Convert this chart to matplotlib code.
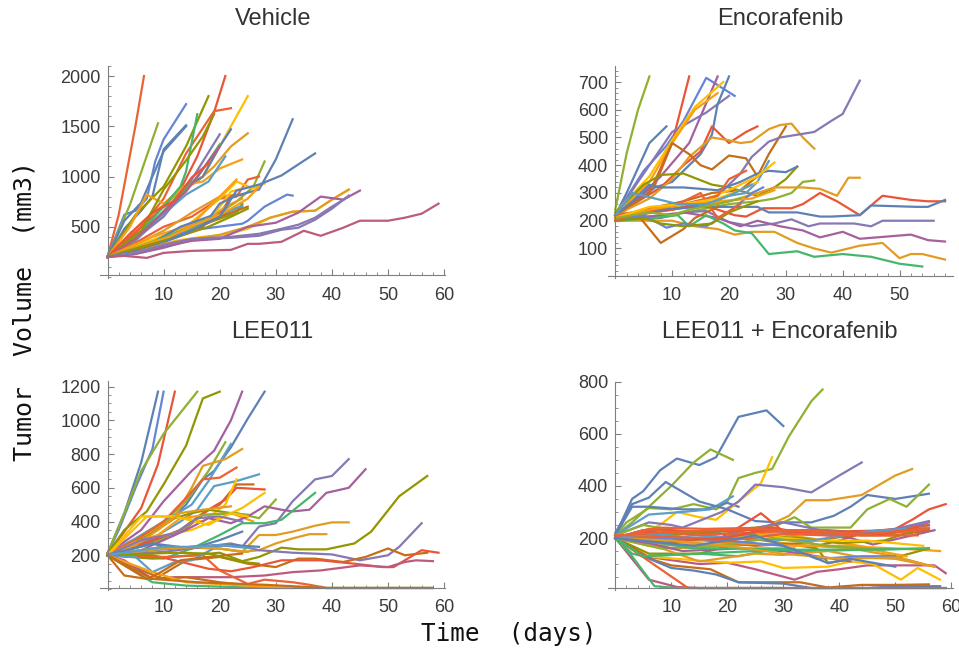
import matplotlib
matplotlib.use("Agg")
import matplotlib.pyplot as plt
from matplotlib.ticker import MultipleLocator, FixedLocator

W, H = 959, 652

# Mathematica default colours
palette = ["#5E81B5", "#E19C24", "#8FB032", "#EB6235", "#8778B3", "#C56E1A", "#5D9EC7", "#FFBF00",
           "#A5609D", "#929600", "#E95536", "#6685D9", "#F89F13", "#BC5B80", "#47B66D"]

# Vehicle
vehicle_colors = [0, 3, 11, 2, 0, 9, 10, 3, 7, 1, 12, 0, 6, 14, 4, 14, 9, 2, 13, 3, 10, 1, 7, 12,
                  0, 14, 9, 7, 10, 1, 6, 2, 0, 11, 5, 12, 9, 7, 0, 4, 1, 8, 4, 13]
vehicle_days = [
    [0, 3, 6, 8, 10, 14], [0, 2, 5, 6.5], [0, 3, 5, 7, 8.5, 10, 14], [0, 4, 9], [0, 3, 6, 8, 10, 14],
    [0, 5, 10, 14, 18], [0, 5, 10, 13, 16, 19, 21], [0, 5, 10, 14, 19, 22], [0, 5, 10, 14, 17, 20, 25],
    [0, 4, 8, 13, 16, 19, 22, 25], [0, 4, 7, 10, 14, 17, 20, 24], [0, 5, 10, 14, 17, 20, 22],
    [0, 5, 9, 14, 18, 21], [0, 5, 9, 13, 14, 16], [0, 5, 10, 14, 17, 20], [0, 5, 9, 13, 16, 20],
    [0, 6, 10, 14, 17, 19], [0, 8, 15, 20, 23, 26, 28], [0, 5, 10, 14, 18, 20], [0, 5, 10, 15, 20, 23, 25, 27],
    [0, 4, 8, 12, 15, 18], [0, 5, 10, 15, 20, 23], [0, 6, 11, 14, 20, 23, 26, 28],
    [0, 8, 15, 20, 23], [0, 7, 13, 20, 24], [0, 8, 15, 20, 23, 24], [0, 8, 15, 21, 23, 24],
    [0, 9, 15, 19, 22, 24], [0, 9, 15, 20, 22, 24], [0, 9, 14, 18, 21, 24], [0, 7, 13, 17, 21, 24],
    [0, 8, 15, 20, 23], [0, 6, 12, 17, 20, 23, 27, 30, 33], [0, 5, 12, 17, 24, 25, 28, 32, 33],
    [0, 8, 15, 20, 25], [0, 6, 11, 16, 20, 22, 25, 27], [0, 6, 12, 18, 22, 25],
    [0, 7, 12, 17, 21, 25, 29, 33, 37, 40, 43], [0, 7, 13, 20, 23, 27, 31, 37],
    [0, 5, 10, 15, 22, 27, 31, 34, 37, 40, 43], [0, 5, 10, 20, 25, 29, 33, 37, 40, 43],
    [0, 5, 10, 15, 20, 25, 30, 34, 38, 42, 45], [0, 5, 10, 15, 22, 27, 31, 34, 37, 40, 43],
    [0, 3, 7, 10, 15, 22, 25, 27, 31, 35, 38, 42, 45, 50, 53, 56, 59],
]
vehicle_vols = [
    [200, 480, 660, 800, 1270, 1510], [200, 620, 1510, 2000], [200, 620, 660, 780, 1150, 1370, 1720], [200, 720, 1530], [200, 560, 740, 1000, 1250, 1500],
    [200, 620, 900, 1300, 1800], [200, 450, 700, 870, 1200, 1640, 2000], [200, 430, 780, 1230, 1650, 1680], [200, 400, 640, 880, 1000, 1300, 1800],
    [200, 430, 630, 850, 950, 1100, 1300, 1430], [200, 500, 820, 730, 920, 950, 1080, 1170], [200, 400, 650, 900, 1000, 1300, 1470],
    [200, 360, 580, 820, 950, 1200], [200, 400, 640, 900, 1050, 1620], [200, 380, 600, 880, 1150, 1420], [200, 380, 600, 830, 990, 1320],
    [200, 460, 870, 1160, 1400, 1620], [200, 350, 520, 640, 750, 900, 1150], [200, 380, 650, 850, 1150, 1300], [200, 340, 500, 600, 780, 800, 970, 1000],
    [200, 430, 640, 760, 990, 1130], [200, 320, 460, 640, 800, 820], [200, 330, 430, 500, 780, 950, 880, 930],
    [200, 400, 520, 800, 970], [200, 310, 500, 640, 700], [200, 350, 500, 600, 650, 720], [200, 340, 480, 600, 640, 730],
    [200, 330, 470, 620, 850, 880], [200, 340, 480, 620, 800, 820], [200, 340, 470, 570, 700, 780], [200, 290, 420, 540, 640, 710],
    [200, 330, 470, 600, 650], [200, 260, 400, 500, 730, 810, 870, 1170, 1570], [200, 280, 420, 480, 530, 560, 700, 820, 810],
    [200, 320, 450, 600, 700], [200, 310, 400, 530, 620, 680, 780, 900], [200, 300, 390, 500, 600, 680],
    [200, 260, 360, 400, 420, 480, 590, 650, 660, 770, 870], [200, 280, 410, 600, 860, 920, 1010, 1230],
    [200, 230, 290, 370, 390, 410, 470, 490, 570, 680, 810], [200, 240, 330, 420, 500, 590, 650, 660, 770, 870],
    [200, 230, 300, 360, 380, 500, 540, 640, 800, 770, 860], [200, 240, 320, 380, 400, 430, 480, 520, 590, 700, 800],
    [200, 210, 190, 240, 260, 270, 330, 330, 350, 460, 410, 490, 560, 560, 590, 630, 730],
]

# Encorafenib
encorafenib_colors = [2, 0, 11, 10, 8, 4, 0, 7, 12, 10, 1, 5, 5, 4, 9, 0, 6, 7, 3, 2, 1, 10, 0, 4, 8, 1, 14, 5, 11,
                      9, 3, 12, 7, 2, 6]
encorafenib_days = [
    [0, 2, 4, 6], [0, 2, 4, 6, 9], [0, 5, 9, 12, 16, 21], [0, 7, 10, 13], [0, 3, 8, 13, 18],
    [0, 6, 10, 16, 20], [0, 7, 10, 12, 15, 17, 18, 20], [0, 6, 10, 14, 19], [0, 6, 10, 14, 18],
    [0, 8, 12, 15, 17, 20, 23, 25], [0, 6, 10, 13, 17, 20, 22, 24, 27, 29, 31, 33, 35],
    [0, 6, 10, 13, 15, 17, 20, 23, 25], [0, 5, 12, 17, 22, 25, 27, 30],
    [0, 10, 18, 22, 24, 27, 29, 32, 35, 38, 40, 43], [0, 5, 8, 12, 17, 20, 25, 28, 30, 32],
    [0, 3, 6, 8, 12, 18, 22, 25, 27, 30, 32], [0, 10, 15, 20, 23, 25, 27], [0, 10, 15, 20, 25, 28],
    [0, 12, 18, 20, 23], [0, 10, 15, 20, 25, 28, 31, 33, 35],
    [0, 10, 20, 25, 28, 33, 36, 39, 41, 43],
    [0, 10, 15, 21, 23, 26, 31, 33, 36, 39, 43, 47, 52, 55, 58],
    [0, 8, 15, 25, 27, 32, 36, 38, 43, 45, 53, 55, 58],
    [0, 8, 12, 16, 20, 24, 28, 31, 34, 36, 42, 45, 47, 56],
    [0, 12, 18, 22, 25, 29, 33, 36, 40, 43, 49, 52, 55, 58],
    [0, 10, 14, 18, 21, 24, 28, 32, 35, 38, 43, 47, 50, 52, 54, 58],
    [0, 7, 11, 13, 16, 19, 21, 24, 27, 32, 35, 40, 45, 50, 54],
    [0, 4, 8, 12, 14, 18], [0, 5, 9, 12, 16, 20, 24, 26],
    [0, 5, 8, 12, 17, 20, 25], [0, 4, 7, 11, 15, 18, 22], [0, 6, 12, 18, 24, 28],
    [0, 6, 12, 18, 22, 25], [0, 6, 10, 13, 18, 22], [0, 3, 7, 11, 16, 20, 24],
]
encorafenib_vols = [
    [240, 443, 600, 720], [220, 300, 390, 480, 540], [220, 380, 470, 560, 715, 650], [220, 330, 480, 720], [210, 260, 360, 480, 720],
    [220, 400, 520, 590, 650], [210, 320, 340, 380, 440, 510, 620, 720], [230, 360, 490, 610, 700], [220, 340, 480, 600, 660],
    [220, 320, 400, 450, 540, 480, 520, 540], [220, 280, 350, 430, 500, 490, 480, 485, 530, 545, 550, 500, 460],
    [220, 300, 480, 440, 400, 385, 435, 425, 360], [210, 240, 270, 300, 310, 360, 440, 540],
    [220, 240, 290, 370, 430, 485, 500, 510, 520, 560, 585, 705], [230, 330, 365, 370, 330, 320, 290, 320, 350, 395],
    [220, 270, 330, 320, 320, 310, 340, 370, 380, 375, 395], [220, 250, 250, 290, 300, 340, 415], [220, 250, 270, 310, 360, 410],
    [220, 260, 290, 350, 380], [210, 220, 240, 260, 270, 280, 300, 340, 345],
    [210, 240, 270, 300, 320, 320, 315, 290, 355, 355],
    [210, 240, 260, 220, 215, 245, 245, 260, 300, 270, 220, 290, 275, 270, 270],
    [200, 240, 250, 250, 230, 230, 215, 215, 220, 255, 250, 250, 275],
    [200, 210, 230, 235, 195, 180, 190, 205, 180, 190, 190, 180, 200, 200],
    [200, 230, 210, 180, 200, 180, 165, 140, 160, 135, 145, 150, 130, 125],
    [200, 200, 180, 170, 150, 160, 160, 120, 100, 85, 110, 120, 65, 80, 80, 60],
    [200, 210, 220, 180, 220, 190, 165, 155, 80, 90, 70, 80, 70, 45, 35],
    [210, 220, 120, 170, 210, 250], [200, 220, 175, 190, 180, 230, 300, 320],
    [200, 210, 190, 180, 190, 230, 270], [200, 230, 240, 260, 300, 210, 260], [210, 240, 260, 270, 280, 310],
    [210, 250, 260, 280, 310, 340], [210, 230, 220, 240, 260, 280], [220, 300, 280, 260, 260, 290, 330],
]

# LEE011
lee011_colors = [0, 11, 10, 2, 9, 8, 0, 6, 2, 1, 3, 6, 5, 10, 7, 7, 9, 12, 2, 4, 8, 14, 1, 1, 0, 9, 4, 5, 10, 13,
                 5, 3, 14, 6, 12, 7, 5, 1, 4, 0, 1, 9, 6, 5]
lee011_days = [
    [0, 3, 6, 9], [0, 2, 5, 8, 10], [0, 3, 6, 9, 12], [0, 3, 6, 10, 16], [0, 3, 7, 10, 14, 17, 20], [0, 6, 10, 15, 19, 22, 24],
    [0, 5, 10, 14, 17, 19, 22, 25, 28], [0, 5, 10, 15, 18, 22], [0, 5, 10, 14, 18, 21], [0, 6, 12, 15, 17, 21, 24],
    [0, 5, 10, 14, 17, 20, 23], [0, 8, 13, 16, 19, 23, 27], [0, 8, 13, 17, 20, 23, 26], [0, 8, 14, 18, 21, 23, 28],
    [0, 7, 15, 20, 24, 28], [0, 6, 12, 17, 21, 23], [0, 7, 12, 15, 18, 22, 25], [0, 5, 9, 13, 18, 22, 26],
    [0, 7, 12, 17, 23, 27, 30], [0, 5, 15, 20, 24, 27, 30, 33, 37, 40, 43], [0, 6, 14, 18, 22, 25, 28, 31, 33, 36, 39, 43, 46],
    [0, 5, 10, 15, 20, 24, 28, 31, 34, 37], [0, 10, 20, 24, 27, 30, 33, 37, 40, 43], [0, 10, 20, 24, 27, 30, 33, 36, 39],
    [0, 8, 15, 20, 24], [0, 8, 15, 20, 24, 27, 31, 34, 39, 44, 47, 52, 57],
    [0, 10, 22, 27, 33, 40, 45, 50, 52, 56], [0, 9, 14, 20, 25, 30, 34, 37, 42, 46, 50, 53, 57],
    [0, 8, 12, 18, 22, 26, 31, 38, 44, 49, 51, 54, 56, 59], [0, 3, 8, 12, 22, 28, 33, 38, 45, 50, 53, 55, 58],
    [0, 3, 7, 9, 14, 20, 30], [0, 10, 17, 20, 25, 28, 33, 36, 39, 58], [0, 4, 8, 14, 24, 30, 58],
    [0, 5, 8, 12, 15, 20], [0, 8, 14, 25, 30, 33], [0, 7, 12, 18, 22, 25], [0, 7, 9, 13, 18, 24],
    [0, 5, 9, 13, 17, 22], [0, 6, 12, 16, 20, 24], [0, 8, 11, 15, 22, 27],
    [0, 10, 17, 25], [0, 12, 18, 24, 27], [0, 10, 15, 20, 26], [0, 8, 16, 28, 39, 58],
]
lee011_vols = [
    [210, 450, 750, 1170], [210, 350, 600, 830, 1170], [200, 340, 480, 740, 1170], [210, 450, 700, 920, 1170], [210, 350, 460, 620, 850, 1130, 1170], [210, 350, 520, 700, 820, 1000, 1170],
    [210, 290, 380, 500, 650, 700, 840, 1010, 1170], [210, 300, 400, 500, 640, 860], [210, 290, 400, 520, 700, 870], [210, 300, 430, 600, 730, 770, 830],
    [210, 290, 400, 540, 650, 660, 720], [200, 300, 400, 470, 610, 640, 680], [200, 280, 350, 450, 500, 620, 620], [200, 290, 360, 470, 530, 600, 590],
    [200, 300, 350, 420, 480, 570], [200, 430, 430, 400, 500, 650], [200, 310, 420, 450, 470, 450, 440], [200, 280, 320, 420, 440, 450, 400],
    [200, 260, 320, 440, 450, 420, 530], [200, 220, 250, 260, 250, 370, 390, 520, 650, 670, 770], [200, 230, 350, 420, 390, 430, 490, 470, 460, 470, 570, 600, 710],
    [200, 190, 180, 240, 320, 390, 390, 410, 490, 570], [200, 250, 240, 220, 320, 320, 340, 375, 395, 395], [200, 250, 240, 220, 230, 270, 300, 325, 325],
    [200, 270, 240, 290, 340], [200, 180, 200, 215, 165, 190, 245, 235, 235, 270, 340, 550, 670],
    [200, 220, 270, 230, 215, 205, 170, 200, 250, 390], [200, 70, 170, 190, 150, 130, 180, 180, 160, 190, 240, 200, 215],
    [200, 200, 170, 120, 105, 130, 170, 170, 150, 130, 130, 190, 230, 215], [200, 170, 60, 70, 70, 80, 100, 110, 140, 130, 160, 170, 165],
    [200, 80, 60, 60, 70, 40, 6], [200, 190, 200, 110, 30, 55, 40, 25, 6, 6], [200, 120, 40, 20, 10, 6, 6],
    [200, 190, 100, 160, 170, 260], [200, 100, 40, 20, 10, 6], [200, 430, 430, 380, 450, 430], [200, 60, 90, 170, 190, 210],
    [200, 260, 350, 450, 470, 490], [200, 290, 330, 420, 430, 400], [200, 270, 240, 250, 260, 250],
    [200, 240, 250, 220], [200, 215, 210, 160, 150], [200, 250, 250, 260, 240], [200, 60, 40, 25, 6, 6],
]

# LEE011 + Encorafenib
combo_colors = [0, 2, 2, 0, 7, 6, 4, 0, 1, 2, 10, 4, 8, 6, 3, 12, 14, 9, 13, 7, 1, 5, 0, 13, 14, 3, 1, 5, 9, 7, 4, 10, 3,
                12, 6, 2, 11, 8, 14, 3, 14, 10, 3, 1, 0]
combo_days = [
    [0, 3, 5, 8, 11, 15, 18, 22, 27, 30], [0, 3, 6, 10, 14, 17, 21], [0, 2, 6, 10, 14, 18, 20, 22, 25, 28, 31, 35, 37], [0, 3, 6, 12, 16, 20, 22],
    [0, 5, 8, 11, 15, 18, 22, 26, 28], [0, 6, 12, 17, 21], [0, 6, 10, 12, 19, 22, 25, 30, 35, 40, 44],
    [0, 3, 6, 9, 11, 15, 20, 25, 29, 35, 39, 42, 45, 50, 56], [0, 10, 20, 27, 31, 34, 38, 44, 50, 53],
    [0, 5, 15, 20, 25, 29, 32, 35, 37, 42, 45, 49, 52, 56], [0, 5, 12, 18, 22, 26, 30, 36, 40, 45, 50, 53, 56, 59],
    [0, 5, 10, 20, 30, 40, 45, 50, 56], [0, 5, 12, 20, 30, 42, 46, 53, 57], [0, 10, 20, 30, 40, 50, 56],
    [0, 8, 16, 28, 30, 40, 50, 56], [0, 5, 15, 28, 36, 45, 50, 58], [0, 3, 5, 15, 22, 28, 35, 45, 56],
    [0, 3, 6, 15, 25, 30, 36, 38, 44, 50, 56], [0, 5, 15, 20, 25, 32, 36, 40, 45, 50, 57, 59],
    [0, 5, 20, 26, 30, 38, 42, 46, 51, 54, 58], [0, 7, 15, 25, 30, 38, 44, 50, 57],
    [0, 7, 10, 17, 22, 27, 33, 38, 44, 50, 56], [0, 5, 10, 14, 18, 22, 30, 35, 45, 50, 58],
    [0, 3, 6, 11, 15, 59], [0, 3, 7, 11, 15, 30], [0, 13, 59], [0, 10, 20, 30, 35, 42, 50, 55],
    [0, 8, 16, 25, 33, 42, 50, 56], [0, 7, 15, 25, 33, 40, 48, 55], [0, 8, 18, 26, 35, 45, 55],
    [0, 10, 18, 28, 38, 48, 56], [0, 8, 16, 24, 32, 40, 50, 56], [0, 6, 14, 24, 34, 44, 54],
    [0, 6, 14, 22, 32, 42, 52], [0, 7, 15, 25, 35, 45, 55], [0, 8, 18, 28, 38, 48], [0, 10, 20, 30, 36, 44, 50],
    [0, 6, 12, 22, 30, 36, 42], [0, 5, 14, 24, 32], [0, 10, 20, 30, 38, 48, 56],
    [0, 5, 20, 30, 45, 56], [0, 10, 20, 28, 32, 40, 48, 54], [0, 12, 25, 35, 45, 55],
    [0, 10, 20, 30, 40, 50, 57], [0, 14, 25, 35, 38, 42, 50],
]
combo_vols = [
    [210, 350, 380, 460, 505, 480, 510, 665, 690, 630], [210, 260, 320, 400, 490, 540, 500], [210, 260, 315, 310, 330, 310, 340, 430, 450, 465, 590, 725, 770], [210, 320, 320, 310, 310, 335, 320],
    [200, 220, 250, 300, 280, 270, 340, 410, 510], [210, 290, 300, 310, 360], [210, 260, 250, 240, 300, 340, 405, 395, 375, 440, 490],
    [220, 330, 355, 415, 390, 340, 310, 265, 260, 260, 285, 320, 365, 350, 370], [200, 180, 220, 245, 285, 345, 345, 365, 440, 465],
    [210, 250, 210, 230, 240, 250, 280, 240, 240, 240, 310, 350, 320, 405], [200, 200, 190, 190, 240, 295, 225, 170, 190, 225, 235, 270, 310, 330],
    [200, 230, 230, 215, 260, 215, 220, 235, 265], [200, 230, 190, 190, 230, 200, 175, 210, 230], [200, 220, 200, 220, 215, 230, 240],
    [200, 240, 235, 240, 225, 220, 225, 250], [200, 220, 170, 220, 195, 165, 160, 150], [200, 140, 130, 140, 130, 155, 150, 155, 160],
    [200, 170, 140, 140, 195, 180, 160, 105, 125, 125, 160], [200, 130, 100, 105, 80, 40, 70, 80, 95, 95, 95, 65],
    [200, 130, 105, 110, 85, 90, 110, 100, 40, 85, 40], [200, 170, 110, 140, 135, 150, 125, 120, 90],
    [200, 115, 95, 80, 30, 30, 30, 10, 20, 20, 22], [200, 130, 85, 75, 60, 30, 25, 8, 8, 15, 15],
    [200, 120, 40, 12, 8, 8], [200, 130, 15, 8, 8, 8], [200, 8, 8], [200, 160, 170, 180, 170, 160, 130, 100],
    [200, 180, 190, 170, 180, 210, 210, 230], [200, 210, 220, 210, 200, 180, 190, 240], [200, 170, 195, 210, 190, 190, 170],
    [200, 190, 200, 230, 230, 215, 260], [200, 230, 225, 230, 225, 225, 230, 250], [200, 235, 210, 220, 230, 210, 210],
    [200, 170, 175, 180, 170, 170, 130], [200, 215, 200, 195, 190, 225, 240], [200, 160, 170, 200, 170, 155], [200, 200, 190, 170, 120, 130, 130],
    [200, 180, 150, 160, 150, 130, 110], [200, 190, 160, 160, 160], [200, 205, 190, 215, 210, 215, 235],
    [200, 130, 145, 155, 155, 160], [200, 190, 200, 240, 225, 220, 215, 240], [210, 225, 235, 225, 215, 235],
    [200, 190, 170, 140, 120, 125, 90], [200, 170, 210, 130, 103, 120, 90],
]

# pixel box of each panel and its axis limits
panels = [
    ("Vehicle", vehicle_days, vehicle_vols, vehicle_colors, (100, 445.5, 66, 277.5),
     (-1.34, 60.25), (-5, 2100), 15, [500, 1000, 1500, 2000], 100, 60, 273),
    ("Encorafenib", encorafenib_days, encorafenib_vols, encorafenib_colors, (608, 953, 66, 277.5),
     (-1.28, 59.4), (-4.6, 757.7), 2.6, [100, 200, 300, 400, 500, 600, 700], 20, 50, 780),
    ("LEE011", lee011_days, lee011_vols, lee011_colors, (100, 445.5, 380.7, 590),
     (-1.34, 60.25), (-6, 1235), 6, [200, 400, 600, 800, 1000, 1200], 50, 60, 272),
    ("LEE011 + Encorafenib", combo_days, combo_vols, combo_colors, (608, 953, 381.7, 590),
     (-1.3, 60.3), (0.4, 800), 8, [200, 400, 600, 800], 50, 60, 780),
]

fig = plt.figure(figsize=(W / 100, H / 100), dpi=100)

for title, days, vols, colors, box, xlim, ylim, base, yticks, yminor, xmax, title_x in panels:
    x0, x1, top, bottom = box
    ax = fig.add_axes([x0 / W, 1 - bottom / H, (x1 - x0) / W, (bottom - top) / H])
    for d, v, c in zip(days, vols, colors):
        ax.plot(d, v, color=palette[c], lw=1.6, solid_joinstyle="round")
    ax.set_xlim(xlim)
    ax.set_ylim(ylim)
    ax.patch.set_alpha(0)
    ax.spines["top"].set_visible(False)
    ax.spines["right"].set_visible(False)
    ax.spines["left"].set_position(("data", 0))
    ax.spines["bottom"].set_position(("data", base))
    ax.spines["left"].set_color("#7f7f7f")
    ax.spines["bottom"].set_color("#7f7f7f")
    ax.spines["left"].set_zorder(5)
    ax.spines["bottom"].set_zorder(5)

    ax.xaxis.set_major_locator(FixedLocator(list(range(10, xmax + 1, 10))))
    ax.xaxis.set_minor_locator(MultipleLocator(2))
    ax.yaxis.set_major_locator(FixedLocator(yticks))
    ax.yaxis.set_minor_locator(MultipleLocator(yminor))
    ax.tick_params(which="major", direction="in", length=4, width=0.8, color="#7f7f7f",
                   labelsize=13, labelcolor="#3a3a3a", pad=4)
    ax.tick_params(axis="x", which="major", pad=8)
    ax.tick_params(axis="y", which="major", pad=5)
    ax.tick_params(which="minor", direction="in", length=2, width=0.6, color="#7f7f7f")
    for lab in ax.get_xticklabels() + ax.get_yticklabels():
        lab.set_family("Liberation Sans")
        lab.set_clip_on(False)

    fig.text(title_x / W, 1 - (19 if top < 100 else 332) / H, title, ha="center", va="center",
             fontsize=17, family="Liberation Sans", color="#333333")

fig.text(509 / W, 1 - 634 / H, "Time  (days)", ha="center", va="center",
         fontsize=17.5, family="DejaVu Sans Mono", color="#111111")
fig.text(25 / W, 1 - 311 / H, "Tumor  Volume  (mm3)", ha="center", va="center", rotation=90,
         fontsize=18, family="DejaVu Sans Mono", color="#111111")

fig.savefig("out.png", dpi=100)
plt.close(fig)
